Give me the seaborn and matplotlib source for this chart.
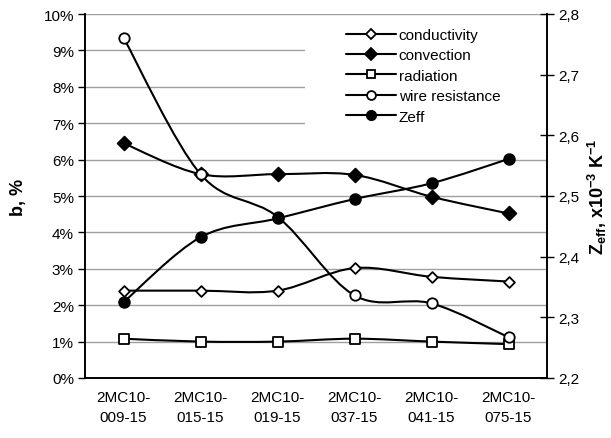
import numpy as np
import pandas as pd
import matplotlib
matplotlib.use("Agg")
import matplotlib.pyplot as plt
import seaborn as sns
from matplotlib.path import Path
from matplotlib.patches import PathPatch, Rectangle
from matplotlib.lines import Line2D
from matplotlib.ticker import FixedLocator

categories = ["2MC10-\n009-15", "2MC10-\n015-15", "2MC10-\n019-15",
              "2MC10-\n037-15", "2MC10-\n041-15", "2MC10-\n075-15"]
conductivity = [2.4, 2.4, 2.4, 3.02, 2.78, 2.65]
convection = [6.45, 5.6, 5.6, 5.58, 4.98, 4.52]
radiation = [1.08, 1.0, 1.0, 1.08, 1.0, 0.93]
wire_resistance = [9.35, 5.6, 4.43, 2.27, 2.05, 1.12]
zeff = [2.325, 2.432, 2.463, 2.495, 2.521, 2.561]
left_ticks = list(range(0, 11))
right_ticks = [2.2, 2.3, 2.4, 2.5, 2.6, 2.7, 2.8]

sns.set_style("white")
plt.rcParams['font.family'] = ['Liberation Sans', 'DejaVu Sans']
plt.rcParams['mathtext.fontset'] = 'custom'
plt.rcParams['mathtext.rm'] = 'Liberation Sans'
plt.rcParams['mathtext.bf'] = 'Liberation Sans:bold'
plt.rcParams['text.color'] = 'black'
plt.rcParams['xtick.color'] = 'black'
plt.rcParams['ytick.color'] = 'black'
plt.rcParams['axes.labelcolor'] = 'black'

W, H = 611, 439
fig = plt.figure(figsize=(W / 100, H / 100), dpi=100)
L, R, T, B = 85, 547, 15, 379
ax = fig.add_axes([L / W, 1 - B / H, (R - L) / W, (B - T) / H])
ax2 = ax.twinx()

x = np.arange(len(categories))


def smooth(axis, xs, ys):
    pts = np.column_stack([xs, ys]).astype(float)
    n = len(pts)
    verts = [pts[0]]
    codes = [Path.MOVETO]
    for i in range(n - 1):
        p0 = pts[max(i - 1, 0)]
        p1 = pts[i]
        p2 = pts[i + 1]
        p3 = pts[min(i + 2, n - 1)]
        c1 = p1 + (p2 - p0) / 6.0
        c2 = p2 - (p3 - p1) / 6.0
        verts += [c1, c2, p2]
        codes += [Path.CURVE4] * 3
    axis.add_patch(PathPatch(Path(verts, codes), facecolor='none',
                             edgecolor='black', lw=1.5, zorder=3))


series = [
    ("conductivity", conductivity, 'D', 'white', 5.5),
    ("convection", convection, 'D', 'black', 7),
    ("radiation", radiation, 's', 'white', 7.5),
    ("wire resistance", wire_resistance, 'o', 'white', 7.5),
]
handles = []
for name, vals, m, fc, ms in series:
    smooth(ax, x, vals)
    df = pd.DataFrame({"x": x, "y": vals})
    sns.scatterplot(data=df, x="x", y="y", ax=ax, marker=m, color=fc,
                    edgecolor='black', linewidth=1.3, s=ms**2, zorder=4)
    handles.append(Line2D([], [], color='black', lw=1.5, marker=m,
                          markerfacecolor=fc, markeredgecolor='black',
                          markersize=ms * 0.85, markeredgewidth=1.3))

smooth(ax2, x, zeff)
dfz = pd.DataFrame({"x": x, "y": zeff})
sns.scatterplot(data=dfz, x="x", y="y", ax=ax2, marker='o', color='black',
                edgecolor='black', linewidth=1.0, s=8**2, zorder=4)
handles.append(Line2D([], [], color='black', lw=1.5, marker='o',
                      markerfacecolor='black', markeredgecolor='black',
                      markersize=7))

ax.set_xlim(-0.5, 5.5)
ax.set_ylim(0, 10)
ax2.set_ylim(2.2, 2.8)

ax.set_yticks(left_ticks)
ax.set_yticklabels([f"{t}%" for t in left_ticks], fontsize=11)
ax.yaxis.grid(True, color='#a0a0a0', lw=1.0, zorder=0.5)
ax.set_axisbelow(True)
ax.tick_params(axis='y', direction='out', length=5, width=1, color='black', pad=3)

# white legend area hiding the gridlines (axes fraction)
ax.add_patch(Rectangle(((305 - L) / (R - L), (B - 138) / (B - T)),
                       (R - 305) / (R - L), (138 - 20) / (B - T),
                       transform=ax.transAxes, facecolor='white',
                       edgecolor='none', zorder=1))

ax.set_xticks(x)
ax.set_xticklabels(categories, fontsize=11, linespacing=1.5)
ax.xaxis.set_minor_locator(FixedLocator(np.arange(-0.5, 6, 1)))
ax.tick_params(axis='x', which='major', length=0, pad=9)
ax.tick_params(axis='x', which='minor', direction='out', length=5, width=1, color='black')

ax2.set_yticks(right_ticks)
ax2.set_yticklabels([f"{t:.1f}".replace('.', ',') for t in right_ticks], fontsize=11)
ax2.tick_params(axis='y', direction='inout', length=10, width=1, color='black', pad=3)

for a in (ax, ax2):
    a.spines['top'].set_visible(False)
    for s in ('left', 'right', 'bottom'):
        a.spines[s].set_color('black')
        a.spines[s].set_linewidth(1.2)
ax.set_xlabel("")
ax.set_ylabel("b, %", fontsize=13, fontweight='bold', labelpad=12)
ax2.set_xlabel("")
ax2.set_ylabel(r"$\mathbf{Z_{eff}}$, x10$^{\mathbf{-3}}$ K$^{\mathbf{-1}}$",
               fontsize=13, fontweight='bold', labelpad=5)

leg = ax2.legend(handles, [s[0] for s in series] + ["Zeff"],
                 loc='upper left', bbox_to_anchor=(346 / W, 1 - 29 / H),
                 bbox_transform=fig.transFigure,
                 frameon=False, fontsize=11, handlelength=3.3,
                 handletextpad=0.15, labelspacing=0.42, borderaxespad=0,
                 borderpad=0)

fig.savefig("out.png", dpi=100)
